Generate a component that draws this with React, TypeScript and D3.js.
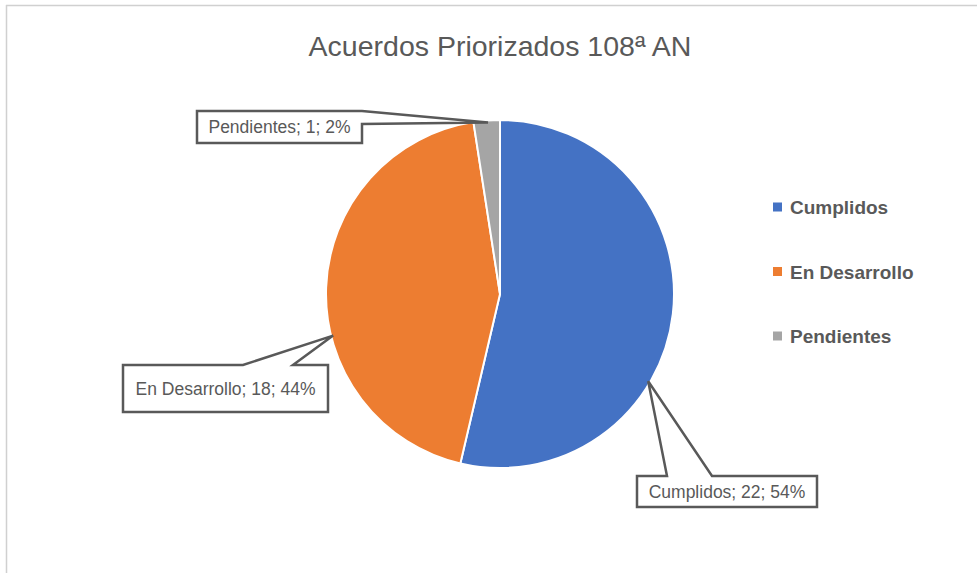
import React, { useEffect, useRef } from 'react';
import * as d3 from 'd3';

// datos
const categorias = ['Cumplidos', 'En Desarrollo', 'Pendientes'];
const valores = [22, 18, 1];
const colores = ['#4472C4', '#ED7D31', '#A5A5A5'];
const titulo = 'Acuerdos Priorizados 108ª AN';

// posicion de las etiquetas (caja + angulo de la punta en grados)
const etiquetas = [
  { x: 637, y: 476, w: 180, h: 31, tipAng: 120.5, b1: 667, b2: 712, side: 'top' },
  { x: 123, y: 365, w: 205, h: 47, tipAng: 256, b1: 243, b2: 293, side: 'top' },
  { x: 197, y: 111, w: 165, h: 32, tipAng: 356, b1: 111, b2: 124, side: 'right' },
];

export default function App() {
  const ref = useRef<SVGSVGElement>(null);

  useEffect(() => {
    const width = 977;
    const height = 573;
    const cx = 500;
    const cy = 294;
    const radio = 174;
    const gris = '#595959';

    const svg = d3.select(ref.current);
    svg.selectAll('*').remove();

    svg.append('rect').attr('width', width).attr('height', height).attr('fill', '#fff');
    // borde del area del grafico
    svg.append('line').attr('x1', 6).attr('x2', width).attr('y1', 5.5).attr('y2', 5.5)
      .attr('stroke', '#d0d0d0').attr('stroke-width', 1.5);
    svg.append('line').attr('x1', 6.5).attr('x2', 6.5).attr('y1', 5).attr('y2', height)
      .attr('stroke', '#d0d0d0').attr('stroke-width', 1.5);

    // titulo
    svg.append('text')
      .attr('x', cx).attr('y', 56)
      .attr('text-anchor', 'middle')
      .attr('font-family', 'Liberation Sans, Arial, sans-serif')
      .attr('font-size', 28.5)
      .attr('fill', gris)
      .text(titulo);

    const pie = d3.pie<number>().sort(null).value(d => d);
    const arcos = pie(valores);
    const arc = d3.arc<d3.PieArcDatum<number>>().innerRadius(0).outerRadius(radio);

    const g = svg.append('g').attr('transform', `translate(${cx},${cy})`);
    g.selectAll('path')
      .data(arcos)
      .enter()
      .append('path')
      .attr('d', d => arc(d) as string)
      .attr('fill', (d, i) => colores[i])
      .attr('stroke', '#fff')
      .attr('stroke-width', 2);

    // etiquetas tipo globo
    const total = d3.sum(valores);
    etiquetas.forEach((e, i) => {
      const a = (e.tipAng * Math.PI) / 180;
      const tx = cx + Math.sin(a) * (radio - 2);
      const ty = cy - Math.cos(a) * (radio - 2);
      let pts: [number, number][];
      const x0 = e.x, y0 = e.y, x1 = e.x + e.w, y1 = e.y + e.h;
      if (e.side === 'top') {
        pts = [[x0, y0], [e.b1, y0], [tx, ty], [e.b2, y0], [x1, y0], [x1, y1], [x0, y1]];
      } else {
        pts = [[x0, y0], [x1, y0], [x1, e.b1], [tx, ty], [x1, e.b2], [x1, y1], [x0, y1]];
      }
      svg.append('path')
        .attr('d', d3.line()(pts) + 'Z')
        .attr('fill', '#fff')
        .attr('stroke', gris)
        .attr('stroke-width', 2.5)
        .attr('stroke-linejoin', 'miter');
      const pct = Math.round((valores[i] / total) * 100);
      svg.append('text')
        .attr('x', e.x + e.w / 2)
        .attr('y', e.y + e.h / 2 + 6)
        .attr('text-anchor', 'middle')
        .attr('font-family', 'Liberation Sans, Arial, sans-serif')
        .attr('font-size', 17.5)
        .attr('fill', gris)
        .text(`${categorias[i]}; ${valores[i]}; ${pct}%`);
    });

    // leyenda
    const ly = d3.scalePoint<string>().domain(categorias).range([207, 336]);
    const leg = svg.append('g');
    categorias.forEach((c, i) => {
      leg.append('rect')
        .attr('x', 773).attr('y', (ly(c) as number) - 4.5)
        .attr('width', 9).attr('height', 9)
        .attr('fill', colores[i]);
      leg.append('text')
        .attr('x', 790).attr('y', (ly(c) as number) + 7)
        .attr('font-family', 'Liberation Sans, Arial, sans-serif')
        .attr('font-size', 19)
        .attr('font-weight', 'bold')
        .attr('fill', gris)
        .text(c);
    });
  }, []);

  return (
    <svg ref={ref} width={977} height={573}
      style={{ position: 'absolute', left: 0, top: 0, display: 'block' }} />
  );
}
